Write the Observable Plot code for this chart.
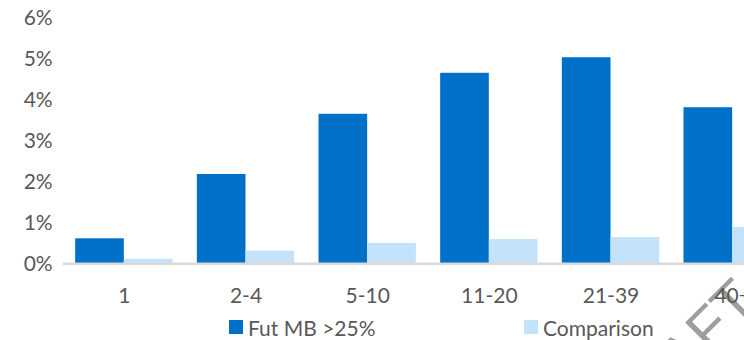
<!DOCTYPE html>
<html><head><meta charset="utf-8">
<script src="https://cdn.jsdelivr.net/npm/d3@7"></script>
<script src="https://cdn.jsdelivr.net/npm/@observablehq/plot@0.6"></script>
<style>
html,body{margin:0;padding:0;background:#fff;}
#wrap{position:relative;width:744px;height:340px;overflow:hidden;font-family:Lato,sans-serif;color:#595959;background:#fff;}
#chart{position:absolute;left:0;top:0;}
#chart svg{max-width:none;display:block;}
.legend{position:absolute;top:312px;left:0;width:744px;height:28px;font-size:21px;}
.item{position:absolute;top:0;height:30px;display:flex;align-items:center;white-space:nowrap;}
.sw{width:14px;height:14px;margin-right:5px;}
#wm{position:absolute;left:0;top:0;pointer-events:none;}
</style></head><body>
<div id="wrap">
<svg id="wm" width="744" height="340"><text transform="translate(760,304) rotate(-45)" text-anchor="end" font-family="Liberation Sans, Arial, sans-serif" font-size="58" fill="#9e9e9e">DRAFT</text></svg>
<div id="chart"></div><div class="legend" id="legend"></div>
</div>
<script>
const categories = ["1", "2-4", "5-10", "11-20", "21-39", "40+"];
const series = ["Fut MB >25%", "Comparison"];
const futMB = [0.0061, 0.0218, 0.0365, 0.0465, 0.0503, 0.0381];
const comparison = [0.0011, 0.0031, 0.0050, 0.0059, 0.0064, 0.0089];
const yTicks = [0, 0.01, 0.02, 0.03, 0.04, 0.05, 0.06];
const colors = ["#0070c8", "#c3e2fb"];

const data = categories.flatMap((c, i) => [
  {category: c, series: series[0], value: futMB[i]},
  {category: c, series: series[1], value: comparison[i]}
]);

const chart = Plot.plot({
  width: 793, height: 312,
  marginLeft: 63, marginRight: 0, marginTop: 17.5, marginBottom: 48.7,
  style: {fontFamily: "Lato, sans-serif", fontSize: "21px", color: "#595959", background: "transparent"},
  fx: {domain: categories, paddingInner: 0.2, paddingOuter: 0.1, round: false, tickSize: 0, tickPadding: 24.5, label: null},
  x: {domain: series, padding: 0, round: false, axis: null},
  y: {domain: [0, 0.06], ticks: yTicks, tickFormat: d3.format(".0%"), tickSize: 0, tickPadding: 23, label: null},
  color: {domain: series, range: colors},
  marks: [
    Plot.barY(data, {fx: "category", x: "series", y: "value", fill: "series"}),
    Plot.ruleY([0], {stroke: "#d9d9d9", strokeWidth: 2.5, insetLeft: -12.3, insetRight: -12.3})
  ]
});
document.getElementById("chart").appendChild(chart);

const legend = document.getElementById("legend");
const lx = [229, 524];
series.forEach((s, i) => {
  const it = document.createElement("div");
  it.className = "item";
  it.style.left = lx[i] + "px";
  it.innerHTML = `<span class="sw" style="background:${colors[i]}"></span><span>${s}</span>`;
  legend.appendChild(it);
});
</script>
</body></html>
